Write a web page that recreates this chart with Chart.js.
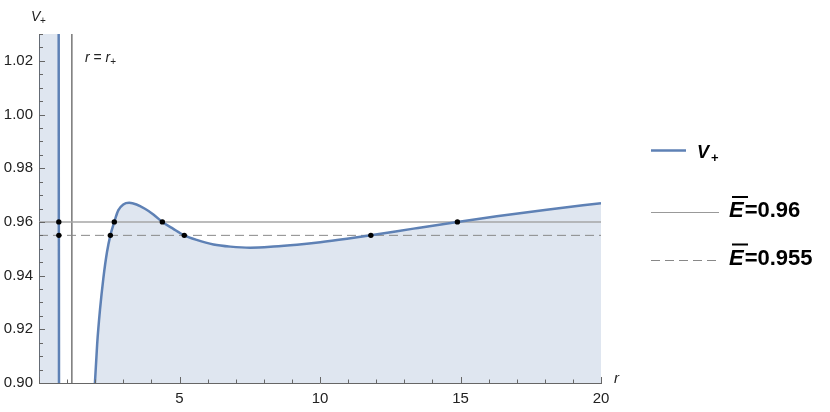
<!DOCTYPE html>
<html>
<head>
<meta charset="utf-8">
<script src="https://cdn.jsdelivr.net/npm/chart.js@4.4.1/dist/chart.umd.min.js"></script>
<style>
  html, body { margin: 0; padding: 0; background: #fff; }
  canvas { display: block; }
</style>
</head>
<body>
<canvas id="chart" width="830" height="412" style="width:830px;height:412px"></canvas>
<script>
// ----- data ----------------------------------------------------------------
// values below 0.90 / above 1.03 are off-scale and only steer the clipped line
const curveR = [0, 0.695, 0.705, 0.707, 0.72, 1.70, 1.85, 1.93, 1.99, 2.07, 2.17, 2.29, 2.42, 2.54, 2.68,
  2.82, 3.0, 3.21, 3.47, 3.77, 4.07, 4.39, 4.78, 5.17, 5.61, 6.21, 6.81, 7.52, 8.35,
  9.18, 10.01, 10.96, 11.81, 13.33, 14.89, 16.29, 18.07, 20];
const curveV = [1.10, 1.10, 0.96, 0.955, 0.80, 0.80, 0.862, 0.886, 0.90, 0.9145, 0.9272, 0.939, 0.9488, 0.955, 0.96,
  0.9643, 0.9665, 0.9671, 0.9665, 0.9649, 0.9628, 0.96, 0.9574, 0.955, 0.9533, 0.9516, 0.9508, 0.9504, 0.9508,
  0.9515, 0.9524, 0.9537, 0.955, 0.9575, 0.96, 0.9621, 0.9645, 0.967];

const dotR = [0.705, 0.707, 2.54, 2.68, 4.39, 5.17, 11.81, 14.89];
const dotV = [0.96, 0.955, 0.955, 0.96, 0.96, 0.955, 0.955, 0.96];

const energies = [0.96, 0.955];
const rPlus = 1.17;
const xRange = [0, 20];
const yRange = [0.90, 1.03];

const BLUE = "#5e81b5";
const AXIS = "#666";

const pts = (xs, ys) => xs.map((x, i) => ({ x, y: ys[i] }));

// ----- ticks drawn inward, Mathematica style ------------------------------
const innerTicks = {
  id: "innerTicks",
  afterDraw(chart) {
    const { ctx, scales: { x, y }, chartArea: a } = chart;
    ctx.save();
    ctx.strokeStyle = AXIS;
    ctx.lineWidth = 1;
    x.ticks.forEach((t) => {
      const px = Math.round(x.getPixelForValue(t.value)) + 0.5;
      const len = t.value % 5 === 0 ? 6 : 3.5;
      ctx.beginPath();
      ctx.moveTo(px, a.bottom);
      ctx.lineTo(px, a.bottom - len);
      ctx.stroke();
    });
    y.ticks.forEach((t) => {
      const py = Math.round(y.getPixelForValue(t.value)) + 0.5;
      const major = Math.abs(t.value * 50 - Math.round(t.value * 50)) < 1e-6;
      ctx.beginPath();
      ctx.moveTo(a.left, py);
      ctx.lineTo(a.left + (major ? 6 : 4), py);
      ctx.stroke();
    });
    ctx.restore();
  },
};

// ----- labels, annotation and legend --------------------------------------
const texts = {
  id: "texts",
  afterDraw(chart) {
    const { ctx } = chart;
    ctx.save();
    ctx.fillStyle = "#222";
    ctx.textBaseline = "alphabetic";
    // axis labels
    ctx.font = 'italic 14px "Liberation Sans"';
    ctx.fillText("V", 31, 21);
    ctx.font = '10px "Liberation Sans"';
    ctx.fillText("+", 40, 24);
    ctx.font = 'italic 15px "Liberation Sans"';
    ctx.fillText("r", 614, 383);

    // r = r+ annotation
    let x = 85;
    ctx.font = 'italic 14px "Liberation Sans"';
    ctx.fillText("r", x, 62); x += ctx.measureText("r").width;
    ctx.font = '14px "Liberation Sans"';
    ctx.fillText(" = ", x, 62); x += ctx.measureText(" = ").width;
    ctx.font = 'italic 14px "Liberation Sans"';
    ctx.fillText("r", x, 62); x += ctx.measureText("r").width;
    ctx.font = '10px "Liberation Sans"';
    ctx.fillText("+", x, 65);

    // legend
    ctx.fillStyle = "#000";
    ctx.lineWidth = 2.5;
    ctx.strokeStyle = BLUE;
    ctx.beginPath(); ctx.moveTo(651, 150.5); ctx.lineTo(686, 150.5); ctx.stroke();
    ctx.font = 'bold italic 18px "Liberation Sans"';
    ctx.fillText("V", 697, 158);
    ctx.font = 'bold 13px "Liberation Sans"';
    ctx.fillText("+", 711, 162);

    ctx.lineWidth = 1;
    ctx.strokeStyle = "#999";
    ctx.beginPath(); ctx.moveTo(651, 212.5); ctx.lineTo(719, 212.5); ctx.stroke();
    ctx.strokeStyle = "#888";
    ctx.setLineDash([9, 5]);
    ctx.beginPath(); ctx.moveTo(651, 260.5); ctx.lineTo(717, 260.5); ctx.stroke();
    ctx.setLineDash([]);

    const eLabel = (val, base) => {
      ctx.font = 'bold italic 22px "Liberation Sans"';
      ctx.fillText("E", 729, base);
      const w = ctx.measureText("E").width;
      ctx.fillRect(732, base - 21, 16, 2);
      ctx.font = 'bold 22px "Liberation Sans"';
      ctx.fillText("=" + val, 729 + w + 1, base);
    };
    eLabel("0.96", 217);
    eLabel("0.955", 264.5);
    ctx.restore();
  },
};

new Chart(document.getElementById("chart"), {
  type: "scatter",
  data: {
    datasets: [
      {
        label: "points",
        data: pts(dotR, dotV),
        pointRadius: 2.7,
        pointBackgroundColor: "#000",
        pointBorderWidth: 0,
        showLine: false,
        order: 0,
      },
      {
        label: "V+",
        data: pts(curveR, curveV),
        showLine: true,
        borderColor: BLUE,
        borderWidth: 2.5,
        pointRadius: 0,
        cubicInterpolationMode: "monotone",
        fill: "start",
        backgroundColor: "rgba(94,129,181,0.2)",
        order: 1,
      },
      {
        label: "E=0.96",
        data: pts(xRange, [energies[0], energies[0]]),
        showLine: true,
        borderColor: "#a6a6a6",
        borderWidth: 1.5,
        pointRadius: 0,
        order: 2,
      },
      {
        label: "E=0.955",
        data: pts(xRange, [energies[1], energies[1]]),
        showLine: true,
        borderColor: "#888",
        borderWidth: 1,
        borderDash: [9, 5],
        pointRadius: 0,
        order: 2,
      },
      {
        label: "r=r+",
        data: pts([rPlus, rPlus], yRange),
        showLine: true,
        borderColor: "#555",
        borderWidth: 1.2,
        pointRadius: 0,
        order: 3,
      },
    ],
  },
  options: {
    responsive: false,
    animation: false,
    layout: { padding: { top: 34, right: 229, bottom: 0, left: 0 } },
    plugins: {
      legend: { display: false },
      tooltip: { enabled: false },
      filler: { drawTime: "beforeDatasetsDraw" },
    },
    scales: {
      x: {
        type: "linear",
        min: xRange[0],
        max: xRange[1],
        afterFit: (s) => { s.height = 29; },
        grid: { display: true, drawOnChartArea: false, drawTicks: false },
        border: { color: AXIS, width: 1 },
        ticks: {
          stepSize: 1,
          autoSkip: false,
          maxRotation: 0,
          padding: 7,
          color: "#222",
          font: { family: "Liberation Sans", size: 15 },
          callback: (v) => (v % 5 === 0 && v !== 0 ? String(v) : ""),
        },
      },
      y: {
        min: yRange[0],
        max: yRange[1],
        afterFit: (s) => { s.width = 39; },
        grid: { display: true, drawOnChartArea: false, drawTicks: false },
        border: { color: AXIS, width: 1 },
        ticks: {
          stepSize: 0.005,
          autoSkip: false,
          padding: 6,
          color: "#222",
          font: { family: "Liberation Sans", size: 15 },
          callback: (v) =>
            Math.abs(v * 50 - Math.round(v * 50)) < 1e-6 ? v.toFixed(2) : "",
        },
      },
    },
  },
  plugins: [innerTicks, texts],
});
</script>
</body>
</html>
